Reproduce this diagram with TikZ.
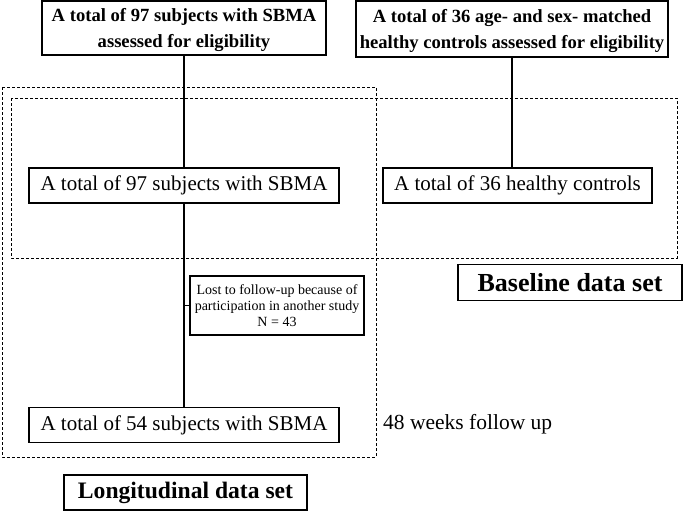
\documentclass[tikz,border=0pt]{standalone}
\usepackage{fontspec}
\setmainfont{Liberation Serif}
\usetikzlibrary{positioning}

\begin{document}
\begin{tikzpicture}[x=1pt,y=-1pt,
 screenbox/.style={draw,line width=1.2pt,minimum height=54pt,align=center,
 inner sep=1pt,font=\fontsize{18.6}{26}\selectfont\bfseries},
 cohort/.style={draw,line width=1.2pt,minimum height=35pt,inner sep=2pt,
 font=\fontsize{21}{25}\selectfont},
 setlabel/.style={draw,line width=1.2pt,minimum height=36pt,inner sep=2pt,
 font=\fontsize{25}{30}\selectfont\bfseries},
 region/.style={draw,line width=0.9pt,dash pattern=on 3pt off 2pt},
 link/.style={line width=1.8pt}]
\useasboundingbox (0,0) rectangle (685,511);
% dashed data-set regions
\draw[region] (2,87) rectangle (376,457);
\draw[region] (11,98) rectangle (677,258);
% screening
\node[screenbox,minimum width=284pt] (screenSBMA) at (184,28)
 {\rule{0pt}{17pt}A total of 97 subjects with SBMA\\assessed for eligibility};
\node[screenbox,minimum width=312pt,minimum height=56pt] (screenHC) at (512,29)
 {\rule{0pt}{17pt}A total of 36 age- and sex- matched\\healthy controls assessed for eligibility};
% cohorts
\node[cohort,minimum width=310pt] (baseSBMA) at (184,185.5) {A total of 97 subjects with SBMA};
\node[cohort,minimum width=269pt] (baseHC) at (517.5,185.5) {A total of 36 healthy controls};
\node[cohort,minimum width=310pt] (followSBMA) at (184,425) {A total of 54 subjects with SBMA};
\node[draw,line width=1.2pt,minimum width=174pt,minimum height=59pt,inner sep=1pt,align=center,
 font=\fontsize{14}{16}\selectfont] (lost) at (277,305.5)
 {Lost to follow-up because of\\participation in another study\\N = 43};
\node[font=\fontsize{21.5}{25}\selectfont,anchor=west,inner sep=0pt] (weeks) at (383,424) {48 weeks follow up};
% data set labels
\node[setlabel,minimum width=224pt,font=\fontsize{26}{30}\selectfont\bfseries] (baseline) at (570,282.5) {Baseline data set};
\node[setlabel,minimum width=243pt,minimum height=35pt,font=\fontsize{23.6}{28}\selectfont\bfseries] (longit) at (185.5,492.5) {Longitudinal data set};
% connectors
\draw[link] (screenSBMA) -- (baseSBMA);
\draw[link] (screenHC.south) -- (screenHC.south |- baseHC.north);
\draw[link] (baseSBMA) -- (followSBMA);
\draw[link] (baseSBMA.south |- lost.west) -- (lost.west);
\end{tikzpicture}
\end{document}
